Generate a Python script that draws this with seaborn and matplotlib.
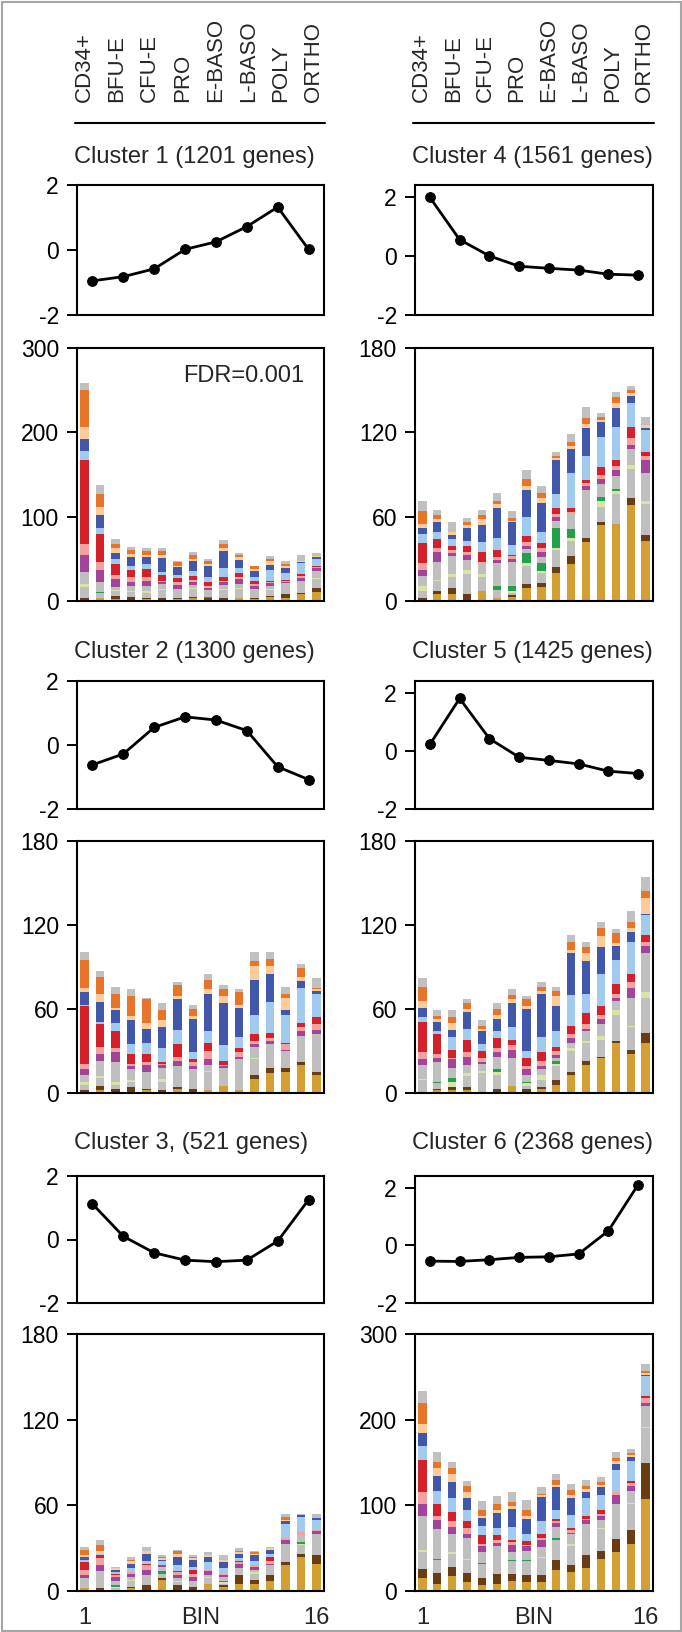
import numpy as np
import pandas as pd
import matplotlib
matplotlib.use("Agg")
import matplotlib.pyplot as plt
from matplotlib.patches import Rectangle
import seaborn as sns

# ---- labels ----
stages = ["CD34+", "BFU-E", "CFU-E", "PRO", "E-BASO", "L-BASO", "POLY", "ORTHO"]
bins = list(range(1, 17))
titles = ["Cluster 1 (1201 genes)", "Cluster 4 (1561 genes)",
          "Cluster 2 (1300 genes)", "Cluster 5 (1425 genes)",
          "Cluster 3, (521 genes)", "Cluster 6 (2368 genes)"]

# ---- mean profile per stage ----
c1_line = [-0.95, -0.82, -0.58, 0.02, 0.25, 0.72, 1.32, 0.02]
c4_line = [1.98, 0.55, 0.0, -0.35, -0.42, -0.48, -0.62, -0.65]
c2_line = [-0.62, -0.28, 0.55, 0.88, 0.78, 0.45, -0.68, -1.08]
c5_line = [0.22, 1.80, 0.42, -0.22, -0.33, -0.45, -0.70, -0.78]
c3_line = [1.12, 0.10, -0.42, -0.65, -0.70, -0.65, -0.05, 1.25]
c6_line = [-0.55, -0.56, -0.50, -0.42, -0.40, -0.30, 0.50, 2.10]

# ---- stacked bar segments per bin (bottom to top) ----
c1_gold = [0, 3, 2, 1, 2, 1, 2, 4, 1, 1, 3, 2, 5, 3, 8, 11]
c1_brown = [4, 0, 4, 4, 2, 2, 2, 1, 2, 2, 1, 1, 1, 5, 2, 5]
c1_gray_a = [13, 7, 6, 6, 6, 10, 7, 9, 1, 10, 10, 8, 7, 10, 5, 10]
c1_lgreen = [3, 0, 1, 1, 2, 1, 0, 1, 0, 1, 1, 0, 1, 0, 0, 1]
c1_green = [0, 1, 0, 0, 0, 0, 0, 0, 1, 0, 0, 0, 0, 0, 1, 0]
c1_gray_b = [14, 12, 4, 6, 6, 6, 3, 4, 8, 5, 5, 3, 4, 3, 8, 9]
c1_purple = [20, 14, 9, 5, 6, 2, 5, 3, 2, 3, 6, 4, 3, 2, 3, 3]
c1_pink = [14, 9, 5, 5, 4, 2, 3, 3, 3, 2, 3, 2, 2, 1, 3, 1]
c1_red = [99, 34, 13, 9, 10, 7, 5, 5, 5, 5, 4, 4, 1, 1, 2, 1]
c1_lblue = [11, 7, 6, 5, 6, 3, 4, 5, 6, 10, 6, 5, 13, 8, 13, 9]
c1_blue = [14, 15, 7, 10, 8, 17, 9, 12, 12, 20, 10, 6, 6, 6, 1, 2]
c1_peach = [14, 9, 6, 4, 2, 3, 2, 3, 3, 4, 3, 3, 4, 3, 1, 1]
c1_orange = [44, 16, 5, 4, 5, 5, 4, 5, 3, 4, 2, 3, 3, 2, 0, 0]
c1_gray_c = [9, 11, 6, 4, 4, 4, 2, 3, 3, 5, 3, 1, 3, 3, 7, 4]

c4_gold = [1, 5, 5, 1, 7, 2, 3, 9, 10, 20, 26, 42, 54, 55, 68, 43]
c4_brown = [1, 2, 4, 4, 0, 0, 1, 3, 3, 4, 6, 3, 2, 0, 5, 4]
c4_gray_a = [5, 7, 8, 14, 10, 6, 2, 13, 7, 12, 11, 21, 11, 21, 21, 22]
c4_lgreen = [4, 1, 2, 3, 2, 0, 1, 2, 1, 2, 2, 0, 4, 2, 3, 2]
c4_green = [0, 0, 0, 0, 0, 3, 4, 7, 6, 14, 6, 0, 3, 2, 0, 0]
c4_gray_b = [7, 13, 13, 7, 8, 16, 17, 3, 4, 5, 11, 13, 9, 9, 11, 20]
c4_purple = [4, 7, 2, 4, 0, 2, 2, 2, 4, 3, 0, 3, 4, 4, 3, 9]
c4_pink = [5, 3, 2, 2, 1, 2, 2, 3, 3, 2, 1, 2, 3, 3, 5, 3]
c4_red = [14, 6, 3, 4, 7, 5, 1, 4, 3, 4, 3, 2, 5, 4, 8, 3]
c4_lblue = [7, 5, 5, 4, 7, 9, 7, 14, 8, 10, 25, 17, 22, 24, 17, 16]
c4_blue = [4, 7, 3, 9, 12, 21, 16, 19, 21, 24, 17, 20, 10, 13, 5, 1]
c4_peach = [3, 2, 2, 2, 4, 3, 1, 3, 3, 2, 2, 3, 2, 4, 2, 2]
c4_orange = [9, 3, 0, 2, 3, 2, 2, 5, 4, 1, 3, 4, 2, 4, 2, 0]
c4_gray_c = [7, 4, 7, 3, 4, 6, 5, 6, 5, 3, 6, 8, 3, 4, 3, 6]

c2_gold = [0, 2, 1, 1, 2, 1, 3, 1, 2, 5, 2, 10, 14, 15, 20, 13]
c2_brown = [2, 3, 2, 3, 1, 1, 1, 2, 0, 0, 0, 3, 4, 3, 2, 2]
c2_gray_a = [4, 6, 3, 4, 4, 6, 9, 7, 13, 10, 17, 11, 11, 8, 18, 22]
c2_lgreen = [2, 1, 2, 1, 0, 2, 0, 0, 1, 0, 0, 1, 0, 0, 0, 0]
c2_green = [0, 0, 0, 0, 0, 0, 0, 0, 0, 0, 0, 0, 0, 0, 0, 0]
c2_gray_b = [5, 11, 14, 8, 8, 8, 6, 7, 4, 3, 5, 8, 6, 4, 1, 5]
c2_purple = [4, 5, 7, 2, 5, 2, 4, 2, 4, 1, 2, 2, 2, 1, 3, 3]
c2_pink = [4, 5, 3, 2, 2, 1, 3, 3, 6, 1, 3, 2, 2, 4, 3, 4]
c2_red = [41, 16, 12, 7, 6, 1, 9, 2, 6, 3, 3, 5, 4, 1, 3, 5]
c2_lblue = [1, 2, 6, 7, 8, 10, 10, 5, 8, 11, 8, 14, 22, 20, 25, 17]
c2_blue = [9, 14, 9, 17, 10, 15, 22, 24, 27, 30, 21, 25, 20, 3, 5, 2]
c2_peach = [3, 6, 2, 3, 4, 5, 2, 2, 3, 5, 2, 10, 6, 9, 3, 1]
c2_orange = [20, 12, 10, 14, 17, 7, 8, 5, 7, 5, 9, 3, 5, 3, 6, 1]
c2_gray_c = [6, 4, 5, 5, 1, 5, 2, 3, 4, 3, 2, 7, 5, 5, 3, 7]

c5_gold = [1, 2, 2, 2, 0, 1, 5, 1, 3, 6, 13, 20, 25, 36, 28, 36]
c5_brown = [0, 1, 2, 2, 0, 2, 0, 2, 1, 3, 2, 3, 1, 1, 3, 7]
c5_gray_a = [8, 4, 0, 8, 14, 10, 18, 2, 5, 10, 15, 13, 12, 19, 16, 25]
c5_lgreen = [1, 0, 4, 2, 2, 2, 0, 2, 4, 2, 2, 1, 3, 3, 1, 4]
c5_green = [0, 1, 3, 0, 0, 2, 0, 1, 0, 2, 0, 0, 0, 0, 0, 0]
c5_gray_b = [10, 14, 7, 6, 5, 9, 2, 5, 4, 2, 4, 7, 8, 7, 20, 28]
c5_purple = [4, 3, 6, 6, 1, 3, 6, 4, 2, 2, 3, 2, 4, 2, 7, 5]
c5_pink = [5, 3, 1, 3, 3, 3, 3, 2, 4, 3, 3, 3, 3, 3, 4, 3]
c5_red = [22, 14, 6, 9, 5, 7, 4, 6, 6, 3, 6, 8, 6, 7, 6, 5]
c5_lblue = [3, 2, 9, 8, 5, 5, 9, 5, 11, 11, 22, 14, 23, 17, 23, 14]
c5_blue = [7, 7, 5, 12, 9, 9, 17, 30, 31, 18, 30, 23, 19, 10, 7, 1]
c5_peach = [5, 2, 5, 2, 2, 3, 3, 2, 2, 7, 2, 6, 8, 2, 3, 11]
c5_orange = [10, 2, 4, 4, 2, 4, 3, 5, 3, 4, 6, 4, 6, 7, 4, 5]
c5_gray_c = [6, 4, 5, 3, 4, 4, 4, 2, 3, 3, 5, 4, 4, 3, 8, 10]

c3_gold = [2, 0, 1, 2, 1, 8, 1, 1, 5, 3, 5, 5, 7, 18, 24, 19]
c3_brown = [0, 2, 0, 1, 3, 1, 3, 2, 0, 1, 6, 3, 4, 2, 2, 6]
c3_gray_a = [7, 12, 1, 4, 7, 3, 2, 4, 4, 1, 5, 4, 7, 13, 6, 15]
c3_lgreen = [0, 0, 1, 1, 0, 0, 1, 0, 1, 1, 0, 1, 0, 0, 1, 0]
c3_green = [0, 0, 1, 0, 0, 2, 0, 0, 0, 1, 0, 0, 0, 0, 1, 0]
c3_gray_b = [0, 0, 3, 2, 0, 3, 2, 0, 1, 3, 0, 2, 0, 0, 5, 0]
c3_purple = [2, 4, 3, 2, 4, 1, 2, 3, 3, 1, 3, 2, 1, 3, 0, 2]
c3_pink = [4, 5, 1, 1, 3, 0, 2, 2, 1, 1, 1, 1, 2, 1, 2, 1]
c3_red = [5, 2, 1, 0, 1, 0, 1, 3, 0, 0, 1, 0, 3, 0, 0, 0]
c3_lblue = [2, 1, 1, 3, 2, 3, 4, 2, 5, 4, 2, 3, 2, 10, 11, 7]
c3_blue = [2, 0, 2, 3, 5, 1, 6, 5, 4, 4, 3, 4, 3, 2, 1, 1]
c3_peach = [1, 2, 1, 2, 2, 1, 2, 1, 1, 2, 1, 1, 1, 1, 0, 0]
c3_orange = [4, 4, 0, 1, 0, 1, 2, 1, 0, 0, 1, 1, 0, 2, 0, 0]
c3_gray_c = [2, 4, 1, 2, 3, 1, 1, 1, 2, 3, 2, 1, 1, 2, 1, 3]

c6_gold = [15, 8, 17, 10, 7, 8, 12, 11, 10, 24, 22, 27, 37, 45, 55, 107]
c6_brown = [11, 13, 11, 11, 8, 12, 8, 8, 9, 12, 8, 15, 10, 16, 16, 42]
c6_gray_a = [20, 15, 15, 15, 17, 18, 15, 16, 20, 24, 23, 20, 25, 36, 30, 41]
c6_lgreen = [2, 0, 2, 1, 0, 0, 0, 0, 1, 0, 2, 0, 1, 0, 2, 2]
c6_green = [0, 1, 0, 0, 1, 1, 1, 1, 0, 2, 0, 0, 0, 0, 0, 0]
c6_gray_b = [39, 35, 21, 25, 13, 13, 10, 11, 11, 13, 11, 16, 10, 5, 14, 24]
c6_purple = [15, 11, 9, 5, 6, 4, 8, 5, 8, 4, 2, 5, 5, 10, 6, 4]
c6_pink = [13, 4, 7, 6, 3, 3, 3, 2, 3, 3, 3, 1, 2, 3, 3, 5]
c6_red = [38, 14, 10, 9, 10, 6, 3, 4, 5, 2, 2, 4, 4, 1, 2, 3]
c6_lblue = [16, 16, 17, 12, 11, 8, 15, 8, 15, 11, 16, 20, 18, 25, 24, 23]
c6_blue = [15, 17, 18, 15, 9, 18, 21, 18, 28, 26, 20, 8, 9, 7, 4, 1]
c6_peach = [11, 9, 9, 6, 3, 4, 3, 3, 2, 3, 3, 3, 3, 4, 3, 3]
c6_orange = [24, 8, 7, 7, 6, 6, 5, 7, 1, 5, 6, 3, 3, 3, 2, 2]
c6_gray_c = [15, 11, 8, 6, 11, 10, 12, 12, 8, 8, 7, 8, 6, 7, 5, 8]

layers = ["gold", "brown", "gray_a", "lgreen", "green", "gray_b", "purple",
          "pink", "red", "lblue", "blue", "peach", "orange", "gray_c"]
colors = {"gold": "#D2A032", "brown": "#6A3C14", "gray_a": "#BFBFBF",
          "lgreen": "#D7E4A5", "green": "#22A04B", "gray_b": "#BFBFBF",
          "purple": "#A0449C", "pink": "#F4A0A0", "red": "#D42029",
          "lblue": "#A0CBEE", "blue": "#4157AA", "peach": "#FBCB9A",
          "orange": "#E8742A", "gray_c": "#C0C0C0"}

g = globals()
panels = []
for k in [1, 4, 2, 5, 3, 6]:
    panels.append({
        "line": g[f"c{k}_line"],
        "bars": [g[f"c{k}_{name}"] for name in layers],
    })

# ---- figure ----
sns.set_theme(style="ticks")
plt.rcParams["font.family"] = ["Liberation Sans", "DejaVu Sans"]
plt.rcParams["axes.unicode_minus"] = False
W, H = 682, 1632
fig = plt.figure(figsize=(W / 100, H / 100), dpi=100)
fig.patch.set_facecolor("white")


def rect(x0, y0, x1, y1):
    return [x0 / W, 1 - y1 / H, (x1 - x0) / W, (y1 - y0) / H]


def style_axes(ax):
    for s in ax.spines.values():
        s.set_visible(True)
        s.set_color("black")
        s.set_linewidth(1.5)
    ax.set_facecolor("white")
    ax.tick_params(axis="y", direction="out", length=7, width=1.4,
                   pad=6, labelsize=16.5, colors="black")
    ax.set_xticks([])
    ax.set_xlabel("")
    ax.set_ylabel("")


cols = [(77, 324), (415, 653)]
headers = [(68, 330), (406, 660)]
rows = [(157, 185, 315, 348, 601),
        (652, 681, 809, 841, 1093),
        (1143, 1176, 1303, 1334, 1591)]

# header with stage names
for (x0, x1), hx in zip(cols, headers):
    hax = fig.add_axes(rect(hx[0], 15, hx[1], 123))
    hax.set_xlim(-0.5, 7.5)
    hax.set_ylim(0, 1)
    hax.axis("off")
    for i, s in enumerate(stages):
        hax.text(i, 0.195, s, rotation=90, ha="center", va="bottom", fontsize=16)
    hax.axhline(0, xmin=(x0 - 2 - hx[0]) / (hx[1] - hx[0]),
                xmax=(x1 + 1 - hx[0]) / (hx[1] - hx[0]), color="black", lw=1.5,
                clip_on=False)

for idx, p in enumerate(panels):
    r, c = divmod(idx, 2)
    x0, x1 = cols[c]
    ty, ly0, ly1, by0, by1 = rows[r]

    fig.text((x0 - 3) / W, 1 - ty / H, titles[idx], ha="left", va="center", fontsize=17)

    # line profile
    lax = fig.add_axes(rect(x0, ly0, x1, ly1))
    sns.lineplot(x=list(range(8)), y=p["line"], color="black", marker="o",
                 markersize=7, linewidth=2, markeredgecolor="black", ax=lax)
    lax.set_xlim(-0.5, 7.5)
    lax.set_ylim(-2, 2.4 if c == 1 else 2)
    lax.set_yticks([-2, 0, 2])
    style_axes(lax)

    # stacked composition bars
    bax = fig.add_axes(rect(x0, by0, x1, by1))
    df = pd.DataFrame({
        "bin": np.tile(bins, len(layers)),
        "layer": np.repeat(layers, len(bins)),
        "count": np.concatenate(p["bars"]),
    })
    sns.histplot(data=df, x="bin", weights="count", hue="layer",
                 hue_order=layers[::-1], multiple="stack", discrete=True,
                 shrink=0.55, palette=colors, linewidth=0, alpha=1,
                 legend=False, ax=bax)
    big = idx in (0, 5)
    bax.set_xlim(0.5, 16.5)
    bax.set_ylim(0, 300 if big else 180)
    bax.set_yticks([0, 100, 200, 300] if big else [0, 60, 120, 180])
    style_axes(bax)

    if idx == 0:
        bax.text(0.92, 0.89, "FDR=0.001", transform=bax.transAxes,
                 ha="right", va="center", fontsize=17)
    if r == 2:
        tr = bax.get_xaxis_transform()
        yb = -27 / (by1 - by0)
        bax.text(1, yb, "1", transform=tr, ha="center", va="center", fontsize=17)
        bax.text(8.5, yb, "BIN", transform=tr, ha="center", va="center", fontsize=17)
        bax.text(16, yb, "16", transform=tr, ha="center", va="center", fontsize=17)

# light frame round the figure
fig.patches.append(Rectangle((1.5 / W, 1.5 / H), 1 - 3 / W, 1 - 3 / H,
                             transform=fig.transFigure, fill=False,
                             edgecolor="#A6A6A6", linewidth=1.5))

fig.savefig("out.png", dpi=100)
